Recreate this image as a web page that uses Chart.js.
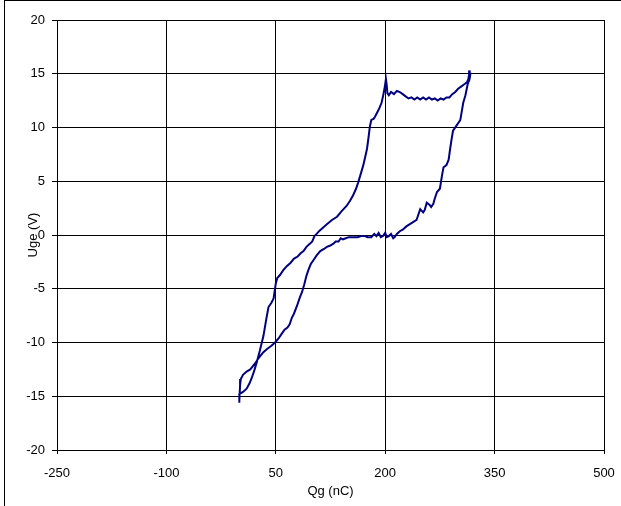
<!DOCTYPE html>
<html>
<head>
<meta charset="utf-8">
<script src="https://cdn.jsdelivr.net/npm/chart.js"></script>
<style>
  body { margin: 0; background: #fff; }
  #wrap { position: relative; width: 621px; height: 506px; overflow: hidden; }
  #frame { position: absolute; left: 4px; top: 0; width: 700px; height: 600px;
           border-left: 1px solid #000; border-top: 1px solid #000; }
  canvas { position: absolute; left: 0; top: 0; }
</style>
</head>
<body>
<div id="wrap">
  <div id="frame"></div>
  <canvas id="c" width="621" height="506"></canvas>
</div>
<script>
// gate charge loop (Qg in nC, Uge in V)
const qg = [
  0, 0, 5, 10, 14, 17, 21, 24, 28, 33, 37, 40, 44, 47, 50, 52, 56, 60, 65, 70,
  75, 80, 84, 88, 92, 97, 100, 103, 106, 110, 115, 120, 127, 134, 140, 147, 152, 156, 160, 163,
  167, 170, 173, 175, 177, 179, 181, 184, 186, 189, 192, 195, 197, 199, 201, 202, 203, 205, 208, 212,
  216, 220, 224, 228, 232, 236, 240, 244, 248, 252, 256, 260, 264, 268, 272, 276, 280, 284, 288, 292,
  296, 300, 304, 308, 312, 314, 316, 315, 317, 316,
  313, 310, 307, 305, 303, 298, 293, 291, 289, 287, 284, 280, 278, 275, 271, 268, 266, 263, 261, 257,
  254, 252, 248, 245, 243, 236, 229, 224, 220, 216, 213, 211, 208, 205, 202, 200, 197, 194, 191, 188,
  185, 181, 176, 172, 167, 162, 156, 150, 146, 142, 139, 136, 132, 129, 124, 120, 116, 111, 106, 102,
  98, 95, 92, 89, 86, 83, 79, 75, 72, 69, 66, 62, 58, 54, 49, 44, 38, 33, 27, 21,
  15, 10, 5, 2, 1, 0
];
const uge = [
  -15.6, -14.8, -14.6, -14.3, -13.8, -13.3, -12.5, -11.8, -10.8, -9.4, -7.8, -6.7, -6.3, -5.9, -4.5, -4.0, -3.7, -3.3, -2.9, -2.6,
  -2.2, -2.0, -1.7, -1.5, -1.1, -0.8, -0.6, -0.1, 0.1, 0.4, 0.7, 1.0, 1.4, 1.7, 2.2, 2.7, 3.2, 3.7, 4.3, 4.9,
  5.8, 6.5, 7.4, 8.0, 9.0, 10.1, 10.7, 10.8, 11.0, 11.4, 11.8, 12.3, 12.9, 13.6, 14.5, 14.0, 13.2, 13.0, 13.3, 13.1,
  13.4, 13.3, 13.1, 12.9, 12.7, 12.8, 12.6, 12.8, 12.6, 12.8, 12.6, 12.8, 12.6, 12.7, 12.5, 12.7, 12.6, 12.8, 12.8, 13.1,
  13.3, 13.6, 13.8, 14.0, 14.2, 14.5, 15.3, 14.3, 15.1, 14.6,
  14.0, 13.0, 12.3, 11.5, 10.7, 10.2, 9.7, 8.9, 8.0, 7.0, 6.5, 6.3, 5.6, 4.3, 4.0, 3.4, 2.9, 2.6, 2.8, 3.0,
  2.3, 2.1, 2.4, 1.8, 1.4, 1.1, 0.8, 0.5, 0.35, 0.1, -0.2, -0.3, 0.1, -0.1, -0.2, 0.2, -0.1, -0.2, 0.2, -0.1,
  0.1, -0.2, -0.2, -0.1, -0.1, -0.2, -0.2, -0.2, -0.3, -0.4, -0.3, -0.6, -0.6, -0.8, -1.0, -1.1, -1.3, -1.5, -1.9, -2.3,
  -2.7, -3.2, -3.8, -4.6, -5.3, -5.8, -6.6, -7.3, -7.7, -8.3, -8.6, -8.8, -9.2, -9.6, -10.0, -10.3, -10.6, -10.9, -11.4, -12.0,
  -12.5, -12.7, -13.0, -13.4, -14.0, -15.4
];

const xMin = -250, xMax = 500, xStep = 150;
const yMin = -20, yMax = 20, yStep = 5;

const font = { family: "'Liberation Sans', Arial, sans-serif", size: 13 };

new Chart(document.getElementById("c").getContext("2d"), {
  type: "scatter",
  data: {
    datasets: [{
      data: qg.map((q, i) => ({ x: q, y: uge[i] })),
      showLine: true,
      borderColor: "#000080",
      borderWidth: 2,
      pointRadius: 0,
      tension: 0
    }]
  },
  options: {
    responsive: false,
    animation: false,
    devicePixelRatio: 1,
    layout: { padding: { left: 0, top: 20, right: 17, bottom: 0 } },
    plugins: { legend: { display: false }, tooltip: { enabled: false } },
    scales: {
      x: {
        type: "linear",
        min: xMin, max: xMax,
        afterFit: s => { s.height = 56; s.paddingLeft = 0; s.paddingRight = 0; },
        ticks: { stepSize: xStep, color: "#000", font: font, padding: 12, maxRotation: 0 },
        grid: { color: "#000", lineWidth: 1, tickLength: 4 },
        border: { color: "#000", width: 1 },
        title: { display: true, text: "Qg (nC)", color: "#000", font: font, padding: { top: 0, bottom: 7 } }
      },
      y: {
        type: "linear",
        min: yMin, max: yMax,
        afterFit: s => { s.width = 57; },
        ticks: { stepSize: yStep, color: "#000", font: font, padding: 7 },
        grid: { color: "#000", lineWidth: 1, tickLength: 5 },
        border: { color: "#000", width: 1 },
        title: { display: true, text: "Uge (V)", color: "#000", font: font, padding: { top: 26, bottom: 0 } }
      }
    }
  }
});
</script>
</body>
</html>
